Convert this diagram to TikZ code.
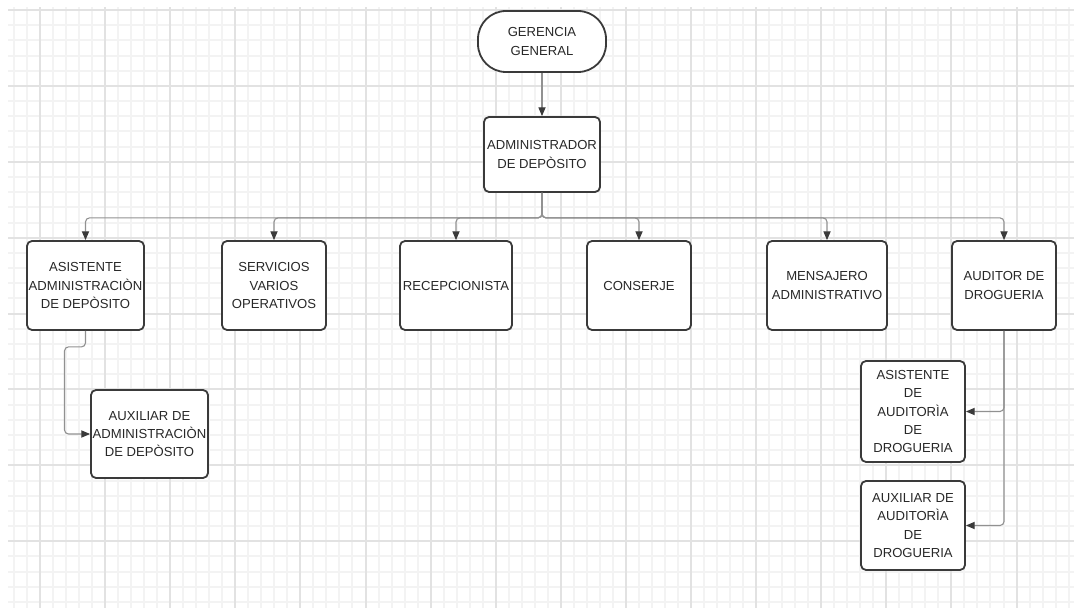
\documentclass[tikz,border=0pt]{standalone}
\usepackage{fontspec}
\setmainfont{Liberation Sans}
\usepackage{tikz}
\usetikzlibrary{arrows.meta}
\definecolor{gridMinor}{RGB}{243,243,243}
\definecolor{gridMajor}{RGB}{226,226,226}
\definecolor{boxLine}{RGB}{58,58,58}
\definecolor{linkLine}{RGB}{145,145,145}
\definecolor{boxText}{RGB}{40,40,40}
\tikzstyle{pixels} = [x = 0.5pt, y = -0.5pt]
\tikzstyle{orgBoxStyle} = [draw=boxLine, fill=white, line width=0.9pt, rounded corners=2.5pt, inner sep=0pt, align=center, text=boxText, font=\fontsize{6.55}{9.2}\selectfont]
\tikzstyle{startStyle} = [orgBoxStyle, rounded corners=14pt]
\tikzstyle{linkStyle} = [draw=linkLine, line width=0.55pt, rounded corners=2pt, -{Triangle[length=4.4pt, width=3.6pt, color=boxLine]}]
\tikzstyle{minorLine} = [draw=gridMinor, line width=1pt]
\tikzstyle{majorLine} = [draw=gridMajor, line width=1pt]
\newcommand{\orgBox}[6]{\node [orgBoxStyle, minimum width=#4pt, minimum height=#5pt] (#1) at (#2,#3) {#6};}
\newcommand{\gridPaper}{
  \foreach \col in {0,...,81} {
    \pgfmathsetmacro{\gx}{13.96 + 13.02 * \col}
    \pgfmathtruncatemacro{\isMajor}{mod(\col + 3, 5) == 0}
    \ifnum \isMajor = 0
      \draw [minorLine] (\gx, 7) -- (\gx, 608);
    \fi
  }
  \foreach \row in {0,...,39} {
    \pgfmathsetmacro{\gy}{10 + 15.18 * \row}
    \pgfmathtruncatemacro{\isMajor}{mod(\row, 5) == 0}
    \ifnum \isMajor = 0
      \draw [minorLine] (8, \gy) -- (1074, \gy);
    \fi
  }
  % major lines on top of the minor ones
  \foreach \col in {0,...,16} {
    \pgfmathsetmacro{\gx}{40 + 65.1 * \col}
    \draw [majorLine] (\gx, 7) -- (\gx, 608);
  }
  \foreach \row in {0,...,7} {
    \pgfmathsetmacro{\gy}{10 + 75.9 * \row}
    \draw [majorLine] (8, \gy) -- (1074, \gy);
  }
}

\begin{document}
\begin{tikzpicture}[pixels]
  \useasboundingbox (0,0) rectangle (1074,608);
  \begin{scope}
    \clip (8,7) rectangle (1074,608);
    \gridPaper
  \end{scope}
  % top
  \node [startStyle, minimum width=64pt, minimum height=30.5pt] (gerencia) at (542,41.5) {GERENCIA\\GENERAL};
  \orgBox{admin}{542}{154.5}{58}{37.5}{ADMINISTRADOR\\DE DEP\`OSITO}
  % second level
  \orgBox{asisAdmin}{85.5}{285.5}{58.5}{44.5}{ASISTENTE\\ADMINISTRACI\`ON\\DE DEP\`OSITO}
  \orgBox{servicios}{274}{285.5}{52}{44.5}{SERVICIOS\\VARIOS\\OPERATIVOS}
  \orgBox{recep}{456}{285.5}{56}{44.5}{RECEPCIONISTA}
  \orgBox{conserje}{639}{285.5}{52}{44.5}{CONSERJE}
  \orgBox{mensajero}{827}{285.5}{60}{44.5}{MENSAJERO\\ADMINISTRATIVO}
  \orgBox{auditor}{1004}{285.5}{52}{44.5}{AUDITOR DE\\DROGUERIA}
  % third level
  \orgBox{auxAdmin}{149.5}{434}{58.5}{44}{AUXILIAR DE\\ADMINISTRACI\`ON\\DE DEP\`OSITO}
  \orgBox{asisAud}{913}{411.5}{52}{50.5}{ASISTENTE\\DE\\AUDITOR\`IA\\DE\\DROGUERIA}
  \orgBox{auxAud}{913}{525.5}{52}{44.5}{AUXILIAR DE\\AUDITOR\`IA\\DE\\DROGUERIA}
  % links
  \draw [linkStyle] (gerencia) -- (admin);
  \foreach \kid in {asisAdmin, servicios, recep, conserje, mensajero, auditor} {
    \draw [linkStyle] (admin.south) -- ++(0,25) -| (\kid.north);
  }
  \draw [linkStyle] (asisAdmin.south) -- ++(0,16) -- ++(-21,0) |- (auxAdmin.west);
  \draw [linkStyle] (auditor.south) |- (asisAud.east);
  \draw [linkStyle] (auditor.south) |- (auxAud.east);
\end{tikzpicture}
\end{document}
